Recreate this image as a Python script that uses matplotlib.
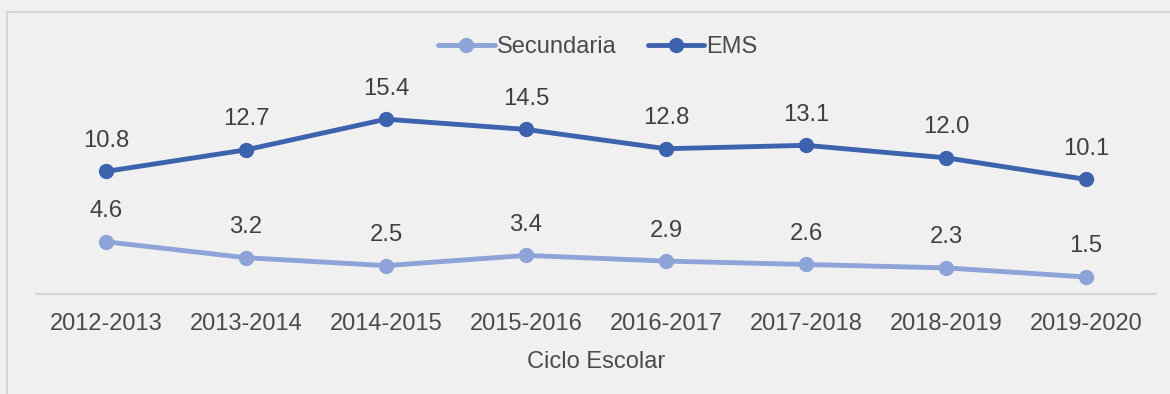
import matplotlib
matplotlib.use("Agg")
import matplotlib.pyplot as plt
from matplotlib.lines import Line2D

# School-cycle series
ciclos = ["2012-2013", "2013-2014", "2014-2015", "2015-2016",
          "2016-2017", "2017-2018", "2018-2019", "2019-2020"]
secundaria = [4.6, 3.2, 2.5, 3.4, 2.9, 2.6, 2.3, 1.5]
ems = [10.8, 12.7, 15.4, 14.5, 12.8, 13.1, 12.0, 10.1]

plt.rcParams["font.family"] = ["Liberation Sans", "DejaVu Sans"]

W, H, DPI = 1170, 394, 100
fig = plt.figure(figsize=(W / DPI, H / DPI), dpi=DPI, facecolor="#f0f0f0")

# frame around the chart area
fig.add_artist(Line2D([7 / W, 1.0], [1 - 12 / H, 1 - 12 / H],
                      transform=fig.transFigure, color="#d6d6d6", lw=1.5))
fig.add_artist(Line2D([7 / W, 7 / W], [0.0, 1 - 12 / H],
                      transform=fig.transFigure, color="#d6d6d6", lw=1.5))

left, right, bottom = 36, 1156, 294
ymax = 20
top = bottom - ymax * 11.35
ax = fig.add_axes([left / W, 1 - bottom / H, (right - left) / W, (bottom - top) / H])
ax.set_facecolor("none")

x = list(range(len(ciclos)))
c_sec = "#8ea3d7"
c_ems = "#3d63ae"
text_c = "#404040"

ax.plot(x, secundaria, color=c_sec, lw=3.5, marker="o", ms=10, label="Secundaria",
        solid_capstyle="round")
ax.plot(x, ems, color=c_ems, lw=3.5, marker="o", ms=10, label="EMS",
        solid_capstyle="round")

for xi, v in zip(x, secundaria):
    ax.annotate(f"{v:.1f}", (xi, v), xytext=(0, 22), textcoords="offset points",
                ha="center", va="center", fontsize=17.2, color=text_c)
for xi, v in zip(x, ems):
    ax.annotate(f"{v:.1f}", (xi, v), xytext=(0, 22), textcoords="offset points",
                ha="center", va="center", fontsize=17.2, color=text_c)

ax.set_xlim(-0.5, len(ciclos) - 0.5)
ax.set_ylim(0, ymax)
ax.set_xticks(x)
ax.set_xticklabels(ciclos, fontsize=17, color="#4a4a4a")
ax.tick_params(axis="x", length=0, pad=14)
ax.set_yticks([])
for s in ["top", "right", "left"]:
    ax.spines[s].set_visible(False)
ax.spines["bottom"].set_color("#d6d6d6")
ax.spines["bottom"].set_linewidth(1.5)

ax.set_xlabel("Ciclo Escolar", fontsize=17, color="#4a4a4a", labelpad=11)

leg = fig.legend(loc="center", bbox_to_anchor=(598 / W, 1 - 47 / H), ncol=2,
                 frameon=False, fontsize=17, handlelength=2.4, handletextpad=0.1,
                 columnspacing=1.3, labelcolor="#4a4a4a")

fig.savefig("out.png", dpi=DPI, facecolor=fig.get_facecolor())
